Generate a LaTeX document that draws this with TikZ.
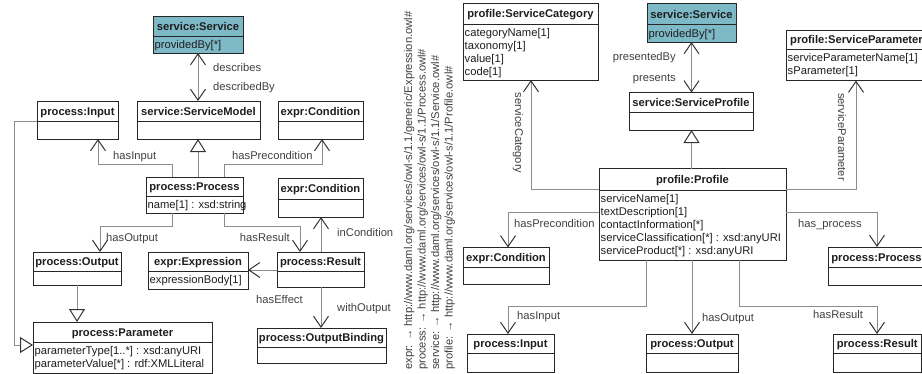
\documentclass[tikz,border=0pt]{standalone}
\usepackage{fontspec}
\setmainfont{Liberation Sans}
\usetikzlibrary{arrows.meta,fit}
\definecolor{svcteal}{HTML}{7DB9C6}
\definecolor{linegray}{HTML}{8C8C8C}
\definecolor{txt}{HTML}{1E1E1E}
\tikzset{
  classbox/.style={draw=black!85, line width=1pt},
  titletext/.style={font=\fontsize{11.2}{13}\selectfont\bfseries, text=txt, inner sep=0pt},
  attrtext/.style={font=\fontsize{11.2}{13}\selectfont, text=txt, inner sep=0pt},
  lbl/.style={font=\fontsize{11.2}{13}\selectfont, text=black!75, inner sep=0pt},
  legend/.style={font=\fontsize{11.2}{13}\selectfont, text=black!75, inner sep=0pt, rotate=90, anchor=base west},
  conn/.style={draw=linegray, line width=1pt},
  opn/.tip={Straight Barb[length=11pt,width=15pt,color=black!80]},
  gen/.tip={Triangle[open,length=13pt,width=16pt,color=black!80]},
}
% name, x1, y1, x2, y2, ydiv, title, fill
\newcommand\umlclass[8]{%
  \draw[classbox, fill=#8] (#2,#3) rectangle (#4,#5);
  \draw[classbox] (#2,#6) -- (#4,#6);
  \node[titletext, anchor=base] at ({(#2+#4)/2},{(#3+#6)/2+4}) {#7};
  \coordinate (#1-div) at (#2,#6);
  \node[inner sep=0pt, outer sep=0pt, fit={(#2,#3) (#4,#5)}] (#1) {};
}
\newcommand\umlattrs[2]{%
  \foreach \t [count=\i] in {#2} {\node[attrtext, anchor=base west] at ([shift={(1.5,{12.5+(\i-1)*13})}]#1-div) {\t};}
}
\begin{document}
\begin{tikzpicture}[x=1pt,y=-1pt]
\useasboundingbox (0,0) rectangle (922,373);
\begin{scope}
\clip (0,0) rectangle (922,373);
% ---------------- left diagram ----------------
\umlclass{svcL}{153}{16}{243}{53}{36}{service:Service}{svcteal}
\umlattrs{svcL}{{providedBy[*]}}
\umlclass{sm}{137}{101}{260}{139}{121}{service:ServiceModel}{white}
\umlclass{inpL}{37}{101}{118}{139}{121}{process:Input}{white}
\umlclass{condA}{278}{101}{363}{139}{121}{expr:Condition}{white}
\umlclass{procL}{146}{177}{243}{213}{196}{process:Process}{white}
\umlattrs{procL}{{name[1] : xsd:string}}
\umlclass{condB}{278}{178}{363}{217}{199}{expr:Condition}{white}
\umlclass{outL}{33}{252}{121}{285}{271}{process:Output}{white}
\umlclass{expr}{148}{252}{248}{289}{271}{expr:Expression}{white}
\umlattrs{expr}{{expressionBody[1]}}
\umlclass{resL}{277}{252}{364}{287}{271}{process:Result}{white}
\umlclass{ob}{257}{328}{386}{363}{347}{process:OutputBinding}{white}
\umlclass{param}{33}{322}{212}{373}{342}{process:Parameter}{white}
\umlattrs{param}{{parameterType[1..*] : xsd:anyURI},{parameterValue[*] : rdf:XMLLiteral}}

\draw[conn, opn-opn] (svcL.south) -- ([xshift=61pt]sm.north west);
\node[lbl, anchor=base west] at (213,71) {describes};
\node[lbl, anchor=base west] at (213,90) {describedBy};
\draw[conn, -gen] ([xshift=52pt]procL.north west) -- ([xshift=61pt]sm.south west);
\draw[conn, -opn] ([xshift=26pt]procL.north west) -- ++(0,-13) -| ([xshift=61pt]inpL.south west);
\node[lbl, anchor=base west] at (113,159) {hasInput};
\draw[conn, -opn] ([xshift=78pt]procL.north west) -- ++(0,-13) -| ([xshift=44pt]condA.south west);
\node[lbl, anchor=base west] at (232,159) {hasPrecondition};
\draw[conn, -opn] ([xshift=26pt]procL.south west) -- ++(0,13) -| ([xshift=67pt]outL.north west);
\node[lbl, anchor=base west] at (106,241) {hasOutput};
\draw[conn, -opn] ([xshift=78pt]procL.south west) -- ++(0,13) -| ([xshift=23pt]resL.north west);
\node[lbl, anchor=base east] at (290,241) {hasResult};
\draw[conn, -opn] ([yshift=-18pt]resL.north west) -- ([yshift=-18pt]expr.north east);
\node[lbl, anchor=base west] at (256,303) {hasEffect};
\draw[conn, -opn] ([xshift=44pt]resL.north west) -- ([xshift=43pt]condB.south west);
\node[lbl, anchor=base west] at (337,236) {inCondition};
\draw[conn, -opn] ([xshift=44pt]resL.south west) -- ([xshift=64pt]ob.north west);
\node[lbl, anchor=base west] at (337,311) {withOutput};
\draw[conn, -gen] (outL.south) -- ([xshift=44pt]param.north west);
\draw[conn, -gen] ([yshift=-20pt]inpL.north west) -- ++(-23,0) |- ([yshift=-23pt]param.north west);

% ---------------- legend ----------------
\node[legend] (lg1) at (412,370) {expr: → http://www.daml.org/services/owl-s/1.1/generic/Expression.owl\#};
\node[legend] (lg2) at (425.5,370) {process: → http://www.daml.org/services/owl-s/1.1/Process.owl\#};
\node[legend] (lg3) at (439,370) {service: → http://www.daml.org/services/owl-s/1.1/Service.owl\#};
\node[legend] (lg4) at (452.5,370) {profile: → http://www.daml.org/services/owl-s/1.1/Profile.owl\#};

% ---------------- right diagram ----------------
\umlclass{cat}{463}{3.5}{598}{80}{24}{profile:ServiceCategory}{white}
\umlattrs{cat}{{categoryName[1]},{taxonomy[1]},{value[1]},{code[1]}}
\umlclass{svcR}{647}{3.5}{736}{42}{24.5}{service:Service}{svcteal}
\umlattrs{svcR}{{providedBy[*]}}
\umlclass{sp}{629}{92.5}{753}{130}{112}{service:ServiceProfile}{white}
\umlclass{spar}{786}{30}{927}{80.5}{49}{profile:ServiceParameter}{white}
\umlattrs{spar}{{serviceParameterName[1]},{sParameter[1]}}
\umlclass{prof}{599}{168.5}{786}{260}{190}{profile:Profile}{white}
\umlattrs{prof}{{serviceName[1]},{textDescription[1]},{contactInformation[*]},{serviceClassification[*] : xsd:anyURI},{serviceProduct[*] : xsd:anyURI}}
\umlclass{condR}{463}{247.5}{549}{284}{267}{expr:Condition}{white}
\umlclass{procR}{828}{247}{925}{285}{267}{process:Process}{white}
\umlclass{inpR}{467}{334}{554}{372.5}{353}{process:Input}{white}
\umlclass{outR}{646}{334}{738}{372.5}{353}{process:Output}{white}
\umlclass{resR}{833}{334}{921.5}{372.5}{353}{process:Result}{white}

\draw[conn, opn-opn] (svcR.south) -- ([xshift=62.5pt]sp.north west);
\node[lbl, anchor=base east] at (676,60) {presentedBy};
\node[lbl, anchor=base east] at (676,81) {presents};
\draw[conn, -gen] ([xshift=92.5pt]prof.north west) -- ([xshift=62.5pt]sp.south west);
\draw[conn, -opn] ([yshift=-20.5pt]prof.north west) -| ([xshift=68pt]cat.south west);
\node[lbl, rotate=-90] at (518,133) {serviceCategory};
\draw[conn, -opn] ([yshift=-20.5pt]prof.north east) -| ([xshift=70pt]spar.south west);
\node[lbl, rotate=-90] at (842,137) {serviceParameter};
\draw[conn, -opn] ([yshift=-43.5pt]prof.north west) -| ([xshift=45pt]condR.north west);
\node[lbl, anchor=base west] at (514,227) {hasPrecondition};
\draw[conn, -opn] ([yshift=-43.5pt]prof.north east) -| ([xshift=49pt]procR.north west);
\node[lbl, anchor=base west] at (798,227) {has\_process};
\draw[conn, -opn] ([xshift=47pt]prof.south west) -- ++(0,46) -| ([xshift=41pt]inpR.north west);
\node[lbl, anchor=base west] at (517,319) {hasInput};
\draw[conn, -opn] ([xshift=93pt]prof.south west) -- ([xshift=46pt]outR.north west);
\node[lbl, anchor=base west] at (702,321) {hasOutput};
\draw[conn, -opn] ([xshift=140pt]prof.south west) -- ++(0,46) -| ([xshift=44pt]resR.north west);
\node[lbl, anchor=base west] at (813,318) {hasResult};
\end{scope}
\end{tikzpicture}
\end{document}
